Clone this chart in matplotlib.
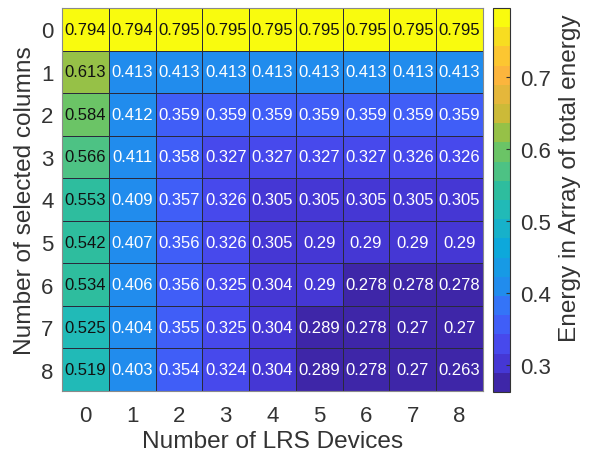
import numpy as np
import matplotlib
matplotlib.use("Agg")
import matplotlib.pyplot as plt
from matplotlib.colors import LinearSegmentedColormap, ListedColormap

plt.rcParams['font.family'] = ['Liberation Sans', 'DejaVu Sans']

lrs_devices = [0, 1, 2, 3, 4, 5, 6, 7, 8]
selected_columns = [0, 1, 2, 3, 4, 5, 6, 7, 8]

# rows: number of selected columns, cols: number of LRS devices
energy = [
    [0.794, 0.794, 0.795, 0.795, 0.795, 0.795, 0.795, 0.795, 0.795],
    [0.613, 0.413, 0.413, 0.413, 0.413, 0.413, 0.413, 0.413, 0.413],
    [0.584, 0.412, 0.359, 0.359, 0.359, 0.359, 0.359, 0.359, 0.359],
    [0.566, 0.411, 0.358, 0.327, 0.327, 0.327, 0.327, 0.326, 0.326],
    [0.553, 0.409, 0.357, 0.326, 0.305, 0.305, 0.305, 0.305, 0.305],
    [0.542, 0.407, 0.356, 0.326, 0.305, 0.29, 0.29, 0.29, 0.29],
    [0.534, 0.406, 0.356, 0.325, 0.304, 0.29, 0.278, 0.278, 0.278],
    [0.525, 0.404, 0.355, 0.325, 0.304, 0.289, 0.278, 0.27, 0.27],
    [0.519, 0.403, 0.354, 0.324, 0.304, 0.289, 0.278, 0.27, 0.263],
]
cbar_ticks = [0.3, 0.4, 0.5, 0.6, 0.7]

# rough parula, sampled into 20 flat steps
parula_pts = [
    (0.000, (0.2422, 0.1504, 0.6603)),
    (0.053, (0.2700, 0.2200, 0.8400)),
    (0.105, (0.2800, 0.2900, 0.9300)),
    (0.158, (0.2500, 0.3700, 0.9700)),
    (0.210, (0.2000, 0.4600, 0.9700)),
    (0.263, (0.1300, 0.5500, 0.9300)),
    (0.368, (0.0500, 0.6600, 0.8600)),
    (0.474, (0.1300, 0.7300, 0.7200)),
    (0.526, (0.1800, 0.7400, 0.6200)),
    (0.579, (0.3000, 0.7600, 0.5200)),
    (0.632, (0.4200, 0.7700, 0.4000)),
    (0.684, (0.5800, 0.7600, 0.2800)),
    (0.737, (0.8000, 0.7300, 0.2200)),
    (0.842, (0.9900, 0.7100, 0.2400)),
    (0.900, (0.9900, 0.7800, 0.1900)),
    (0.950, (0.9700, 0.8700, 0.1300)),
    (1.000, (0.9763, 0.9831, 0.0538)),
]
parula = LinearSegmentedColormap.from_list('parula', parula_pts)
cmap = ListedColormap(parula(np.linspace(0, 1, 20)))

data = np.array(energy)
vmin, vmax = data.min(), data.max()

fig = plt.figure(figsize=(5.92, 4.6), dpi=100)
ax = fig.add_axes([62 / 592, 1 - 392 / 460, 421 / 592, 383 / 460])
cax = fig.add_axes([493 / 592, 1 - 393 / 460, 17 / 592, 384 / 460])

mesh = ax.pcolormesh(data, cmap=cmap, vmin=vmin, vmax=vmax,
                     edgecolors='#2a2a3c', linewidth=0.7)
ax.set_xlim(0, len(lrs_devices))
ax.set_ylim(len(selected_columns), 0)

for i in range(len(selected_columns)):
    for j in range(len(lrs_devices)):
        v = energy[i][j]
        col = '#111111' if v > 0.5 else 'white'
        ax.text(j + 0.5, i + 0.5, f'{v:g}', ha='center', va='center',
                fontsize=12, color=col)

ax.set_xticks(np.arange(len(lrs_devices)) + 0.5)
ax.set_xticklabels([str(d) for d in lrs_devices])
ax.set_yticks(np.arange(len(selected_columns)) + 0.5)
ax.set_yticklabels([str(c) for c in selected_columns])
ax.tick_params(axis='x', length=0, labelsize=16, colors='#333333', pad=10)
ax.tick_params(axis='y', length=0, labelsize=16, colors='#333333', pad=6)
ax.set_xlabel('Number of LRS Devices', fontsize=17.6, color='#333333', labelpad=3)
ax.set_ylabel('Number of selected columns', fontsize=17.6, color='#333333', labelpad=4)
for s in ax.spines.values():
    s.set_color('#8a8a8a')
    s.set_linewidth(0.8)

cb = fig.colorbar(mesh, cax=cax)
cb.set_ticks(cbar_ticks)
cb.ax.tick_params(direction='in', length=3, labelsize=16, colors='#333333', pad=7)
cb.outline.set_edgecolor('#333333')
cb.outline.set_linewidth(0.8)
cb.set_label('Energy in Array of total energy', fontsize=17.6, color='#333333')
cax.yaxis.set_label_coords(3.9, 0.56)

fig.savefig('out.png', dpi=100)
